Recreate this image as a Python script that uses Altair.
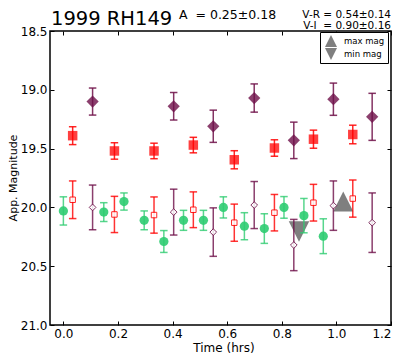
import altair as alt
import pandas as pd

# ---- data ----
# V band (green circles)
v_time = [0.000, 0.148, 0.222, 0.296, 0.368, 0.440, 0.513, 0.586, 0.663, 0.736, 0.808, 0.881, 0.952]
v_mag = [20.03, 20.04, 19.95, 20.11, 20.29, 20.11, 20.11, 20.00, 20.16, 20.18, 20.00, 20.07, 20.245]
v_err = [0.12, 0.08, 0.073, 0.08, 0.093, 0.085, 0.085, 0.09, 0.115, 0.126, 0.092, 0.146, 0.148]

# R band (filled red squares) and R shifted by V-R (open squares)
r_time = [0.034, 0.187, 0.332, 0.476, 0.626, 0.773, 0.916, 1.060]
r_mag = [19.39, 19.52, 19.52, 19.47, 19.595, 19.495, 19.42, 19.38]
r_err = [0.076, 0.07, 0.066, 0.066, 0.077, 0.07, 0.077, 0.079]
rs_mag = [19.935, 20.06, 20.065, 20.02, 20.13, 20.045, 19.96, 19.925]
rs_err = [0.16, 0.154, 0.154, 0.152, 0.158, 0.155, 0.156, 0.158]

# I band (filled purple diamonds) and I shifted by V-I (open diamonds)
i_time = [0.107, 0.404, 0.549, 0.699, 0.844, 0.989, 1.131]
i_mag = [19.10, 19.14, 19.31, 19.07, 19.43, 19.08, 19.23]
i_err = [0.115, 0.117, 0.137, 0.12, 0.155, 0.137, 0.2]
is_mag = [20.0, 20.04, 20.21, 19.98, 20.32, 19.985, 20.13]
is_err = [0.19, 0.195, 0.206, 0.2, 0.218, 0.21, 0.253]

# extremes (triangles)
ext_time = [1.025, 0.863]
ext_mag = [19.95, 20.205]
ext_kind = ["max mag", "min mag"]

x_ticks = [0.0, 0.2, 0.4, 0.6, 0.8, 1.0, 1.2]
y_ticks = [18.5, 19.0, 19.5, 20.0, 20.5, 21.0]

title_text = "1999 RH149"
amp_text = "A\u00a0 = 0.25\u00b10.18"
vr_text = "V-R = 0.54\u00b10.14"
vi_text = "V-I\u00a0 = 0.90\u00b10.16"
x_title = "Time (hrs)"
y_title = "App. Magnitude"

GREEN = "#2ecc71"
RED = "#ff0000"
PURPLE = "#6e0f48"
GRAY = "#7f7f7f"
UP = "M0,-1L-1,1L1,1Z"
DOWN = "M0,1L-1,-1L1,-1Z"

W, H = 341, 294


def frame(t, m, e):
    return pd.DataFrame({
        "t": t,
        "m": m,
        "lo": [mm - ee for mm, ee in zip(m, e)],
        "hi": [mm + ee for mm, ee in zip(m, e)],
    })


vdf = frame(v_time, v_mag, v_err)
rdf = frame(r_time, r_mag, r_err)
rsdf = frame(r_time, rs_mag, rs_err)
idf = frame(i_time, i_mag, i_err)
isdf = frame(i_time, is_mag, is_err)
edf = pd.DataFrame({"t": ext_time, "m": ext_mag, "kind": ext_kind})

xs = alt.Scale(domain=[-0.049, 1.2], nice=False, zero=False)
ys = alt.Scale(domain=[18.5, 21.0], reverse=True, nice=False, zero=False)

X = alt.X("t:Q", scale=xs, axis=None)
Y = alt.Y("m:Q", scale=ys, axis=None)


def errbars(df, color, op=1.0):
    return alt.Chart(df).mark_errorbar(
        ticks=True, size=7.5, thickness=1.5, color=color, opacity=op
    ).encode(x=X, y=alt.Y("lo:Q", scale=ys, axis=None), y2="hi:Q")


# axes layers (invisible points, inward ticks)
common = dict(domain=False, grid=False, tickSize=4, tickColor="black", tickWidth=1,
              offset=-4, title=None)
ax_left = alt.Axis(orient="left", values=y_ticks, format=".1f", labelPadding=3,
                   labelFontSize=12, labelColor="black", labelFlush=False, **common)
ax_bottom = alt.Axis(orient="bottom", values=x_ticks, format=".1f", labelPadding=3,
                     labelFontSize=12, labelColor="black", labelFlush=True, **common)
ax_top = alt.Axis(orient="top", values=x_ticks, labels=False, **common)
ax_right = alt.Axis(orient="right", values=y_ticks, labels=False, **common)

axes1 = alt.Chart(vdf).mark_point(opacity=0).encode(
    x=alt.X("t:Q", scale=xs, axis=ax_bottom), y=alt.Y("m:Q", scale=ys, axis=ax_left))
axes2 = alt.Chart(vdf).mark_point(opacity=0).encode(
    x=alt.X("t:Q", scale=xs, axis=ax_top), y=alt.Y("m:Q", scale=ys, axis=ax_right))

# small copy only to carry the legend (hidden below the large triangles)
tri_legend = alt.Chart(edf).mark_point(filled=True, color=GRAY, opacity=1, size=100).encode(
    x=X, y=Y,
    shape=alt.Shape("kind:N", scale=alt.Scale(domain=ext_kind, range=[UP, DOWN]),
                    legend=alt.Legend(title=None, orient="none", legendX=270, legendY=1,
                                      strokeColor="black", fillColor="white", padding=3,
                                      symbolOffset=2, symbolSize=144, labelFontSize=8.5,
                                      labelOffset=7, rowPadding=1, labelColor="black",
                                      symbolStrokeWidth=0,
                                      symbolFillColor=GRAY, symbolStrokeColor=GRAY)),
)
tri_up = alt.Chart(edf).transform_filter(alt.datum.kind == ext_kind[0]).mark_point(
    filled=True, color=GRAY, opacity=1, size=400, shape=UP).encode(x=X, y=Y)
tri_down = alt.Chart(edf).transform_filter(alt.datum.kind == ext_kind[1]).mark_point(
    filled=True, color=GRAY, opacity=1, size=420, shape=DOWN).encode(x=X, y=Y)

g_err = errbars(vdf, GREEN, 0.8)
g_pts = alt.Chart(vdf).mark_point(shape="circle", filled=True, size=85, color=GREEN,
                                  opacity=0.9).encode(x=X, y=Y)

r_err_l = errbars(rdf, RED, 0.85)
r_pts = alt.Chart(rdf).mark_point(shape="square", filled=True, size=90, color=RED,
                                  opacity=0.75).encode(x=X, y=Y)
rs_err_l = errbars(rsdf, RED, 0.8)
rs_pts = alt.Chart(rsdf).mark_point(shape="square", filled=True, size=30, fill="white",
                                    stroke=RED, strokeWidth=1, opacity=0.85).encode(x=X, y=Y)

i_err_l = errbars(idf, PURPLE, 0.85)
i_pts = alt.Chart(idf).mark_point(shape="diamond", filled=True, size=150, color=PURPLE,
                                  opacity=0.8).encode(x=X, y=Y)
is_err_l = errbars(isdf, PURPLE, 0.8)
is_pts = alt.Chart(isdf).mark_point(shape="diamond", filled=True, size=45, fill="white",
                                    stroke=PURPLE, strokeWidth=1, opacity=0.85).encode(x=X, y=Y)


def label(txt, x, y, size, align="left", angle=0, baseline="alphabetic"):
    return alt.Chart(pd.DataFrame({"s": [txt]})).mark_text(
        align=align, baseline=baseline, fontSize=size, color="black", angle=angle
    ).encode(x=alt.value(x), y=alt.value(y), text="s:N")


t_title = label(title_text, 1, -6, 19.5)
t_amp = label(amp_text, 129, -12, 12.5)
t_vr = label(vr_text, W, -13.5, 10.5, align="right")
t_vi = label(vi_text, W, -2, 10.5, align="right")
t_x = label(x_title, 174, 321, 12, align="center")
t_y = label(y_title, -33.5, H / 2, 11, align="center", angle=270)

chart = alt.layer(
    axes1, axes2, tri_legend, tri_up, tri_down, g_err, g_pts, r_err_l, r_pts, rs_err_l, rs_pts,
    i_err_l, i_pts, is_err_l, is_pts, t_title, t_amp, t_vr, t_vi, t_x, t_y,
).properties(
    width=W, height=H,
    padding={"left": 42, "top": 23, "right": 1, "bottom": 29},
    autosize=alt.AutoSizeParams(type="none"),
).configure(font="DejaVu Sans").configure_view(stroke="black", strokeWidth=1.5)

chart.save("out.html", embed_options={"renderer": "svg", "actions": False})
